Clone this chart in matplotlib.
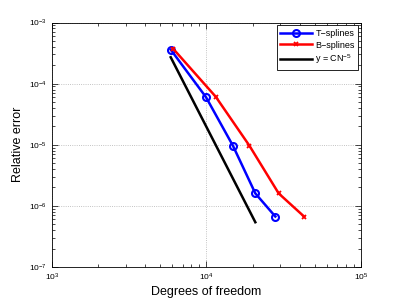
import numpy as np
import matplotlib
matplotlib.use('Agg')
import matplotlib.pyplot as plt
from matplotlib.ticker import LogLocator, NullFormatter

plt.rcParams['font.family'] = ['Liberation Sans', 'DejaVu Sans']
plt.rcParams['mathtext.fontset'] = 'custom'
plt.rcParams['mathtext.rm'] = 'Liberation Sans'

# T-splines
t_dof = [5870, 9930, 14840, 20700, 27870]
t_err = [3.6e-4, 6.0e-5, 9.6e-6, 1.6e-6, 6.7e-7]
# B-splines
b_dof = [6100, 11480, 18930, 29300, 42760]
b_err = [3.7e-4, 6.1e-5, 9.7e-6, 1.6e-6, 6.7e-7]
# reference slope line, y = C N^-5
ref_dof = [5870, 20700]
ref_err = [2.7e-4, 5.4e-7]

fig = plt.figure(figsize=(3.99, 3.0), dpi=100)
ax = fig.add_axes([0.13, 0.11, 0.775, 0.815])

ax.loglog(t_dof, t_err, '-o', color='b', lw=1.8, ms=5, mfc='none', mew=1.5, label='T\u2212splines')
ax.loglog(b_dof, b_err, '-x', color='r', lw=1.8, ms=3.5, mew=1.3, label='B\u2212splines')
ax.loglog(ref_dof, ref_err, '-', color='k', lw=1.8, label='y = CN$^{\u22125}$')

ax.set_xlim(1e3, 1e5)
ax.set_ylim(1e-7, 1e-3)
ax.xaxis.set_major_locator(LogLocator(base=10, numticks=10))
ax.yaxis.set_major_locator(LogLocator(base=10, numticks=10))
ax.xaxis.set_minor_locator(LogLocator(base=10, subs=np.arange(2, 10), numticks=10))
ax.yaxis.set_minor_locator(LogLocator(base=10, subs=np.arange(2, 10), numticks=10))
ax.xaxis.set_minor_formatter(NullFormatter())
ax.yaxis.set_minor_formatter(NullFormatter())

ax.tick_params(which='both', direction='in', top=True, right=True, labelsize=6, width=0.5)
ax.tick_params(which='major', length=4)
ax.tick_params(which='minor', length=2)
ax.grid(True, which='major', linestyle=':', color='#b0b0b0', lw=0.6)
for s in ax.spines.values():
    s.set_linewidth(0.6)

ax.set_xlabel('Degrees of freedom', fontsize=9, labelpad=2)
ax.set_ylabel('Relative error', fontsize=9, labelpad=4)

leg = ax.legend(loc='upper right', fontsize=6.5, fancybox=False, edgecolor='k',
                framealpha=1, borderaxespad=0.3, handlelength=3.5, labelspacing=0.3,
                borderpad=0.4, handletextpad=0.4)
leg.get_frame().set_linewidth(0.6)

fig.savefig('out.png', dpi=100)
